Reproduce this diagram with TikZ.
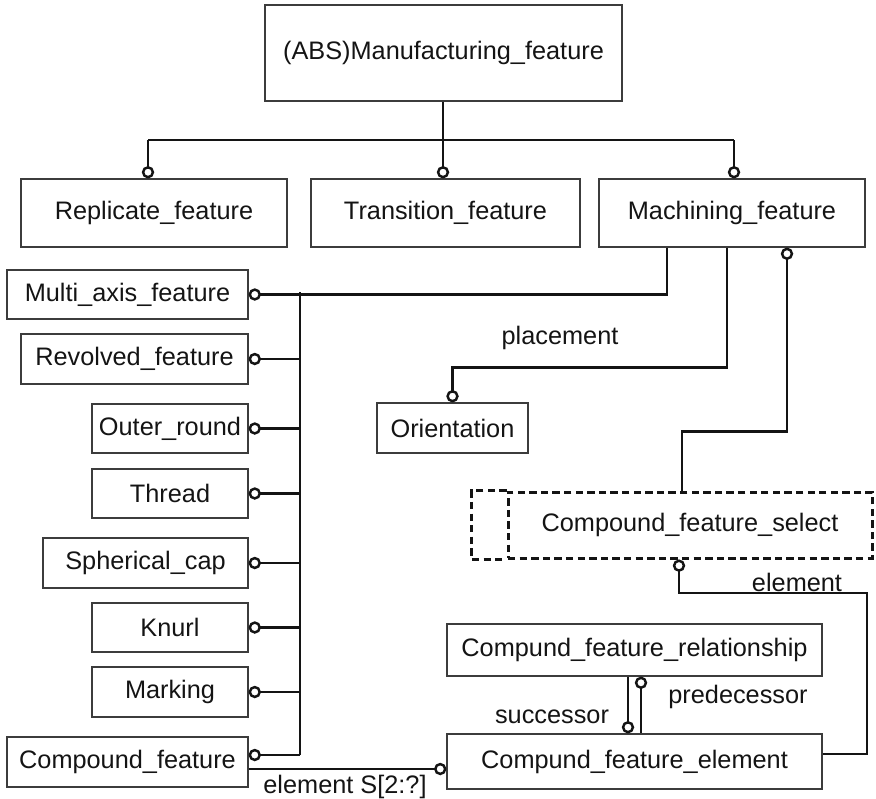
\documentclass[tikz,border=0pt]{standalone}
\usepackage{fontspec}
\setmainfont{Liberation Sans}
\usepackage{tikz}
\usetikzlibrary{arrows.meta, positioning, calc}
\definecolor{boxline}{RGB}{60,60,60}
\definecolor{wire}{RGB}{20,20,20}
\newcommand{\diafont}{\fontsize{14.4}{17}\selectfont}
\tikzset{
  ent/.style={rectangle, draw=boxline, line width=0.7pt, inner sep=0pt,
    font=\diafont, text=wire, minimum height=1.0cm},
  selbox/.style={rectangle, draw=wire, line width=1.7pt, inner sep=0pt,
    dash pattern=on 4.2pt off 2.4pt, font=\diafont, text=wire},
  lbl/.style={font=\diafont, text=wire, inner sep=0pt},
  line/.style={line width=1.4pt, color=wire},
  conn/.style={line, -{Circle[open, length=7pt, width=7pt]}},
  connstart/.style={line, {Circle[open, length=7pt, width=7pt]}-}
}
\begin{document}
\begin{tikzpicture}
  \useasboundingbox (0,0) rectangle (17.52,-15.96);

  % supertype and first level
  \node[ent, minimum width=7.14cm, minimum height=1.92cm] (mfg) at (8.87,-1.06) {(ABS)Manufacturing\_feature};
  \node[ent, minimum width=5.32cm, minimum height=1.36cm] (rep) at (3.08,-4.26) {Replicate\_feature};
  \node[ent, minimum width=5.38cm, minimum height=1.36cm] (trans) at (8.91,-4.26) {Transition\_feature};
  \node[ent, minimum width=5.32cm, minimum height=1.36cm] (mach) at (14.64,-4.26) {Machining\_feature};

  \coordinate (bus) at (8.86,-2.8);
  \draw[line] (mfg.south -| bus) -- (bus);
  \draw[line] ([xshift=-0.12cm]rep.north |- bus) -- ([xshift=0.04cm]mach.north |- bus);
  \draw[conn] (bus) -- (bus |- trans.north);
  \draw[conn] ([xshift=-0.12cm]rep.north |- bus) -- ([xshift=-0.12cm]rep.north);
  \draw[conn] ([xshift=0.04cm]mach.north |- bus) -- ([xshift=0.04cm]mach.north);

  % machining subtypes
  \node[ent, minimum width=4.82cm, minimum height=0.98cm] (multi) at (2.55,-5.89) {Multi\_axis\_feature};
  \node[ent, minimum width=4.54cm] (revolved) at (2.69,-7.18) {Revolved\_feature};
  \node[ent, minimum width=3.12cm, minimum height=0.98cm] (outer) at (3.4,-8.57) {Outer\_round};
  \node[ent, minimum width=3.12cm, minimum height=0.98cm] (thread) at (3.4,-9.87) {Thread};
  \node[ent, minimum width=4.1cm] (sph) at (2.91,-11.26) {Spherical\_cap};
  \node[ent, minimum width=3.12cm, minimum height=0.98cm] (knurl) at (3.4,-12.55) {Knurl};
  \node[ent, minimum width=3.12cm] (marking) at (3.4,-13.84) {Marking};
  \node[ent, minimum width=4.82cm] (compound) at (2.55,-15.24) {Compound\_feature};

  \coordinate (vbus) at (6.0,-5.84);
  \coordinate (cmpup) at ([yshift=0.14cm]compound.east);
  \coordinate (cmpdn) at ([yshift=-0.14cm]compound.east);
  \draw[conn] ([xshift=-1.3cm]mach.south) |- (multi.east);
  \draw[line] (vbus) -- (vbus |- cmpup);
  \foreach \n in {revolved, outer, thread, sph, knurl, marking} {
    \draw[conn] (vbus |- \n.east) -- (\n.east);
  }
  \draw[conn] (vbus |- cmpup) -- (cmpup);

  % placement
  \node[ent, minimum width=3.02cm] (orient) at (9.05,-8.56) {Orientation};
  \draw[conn] ([xshift=-0.1cm]mach.south) -- ++(0,-2.4) -| (orient.north);
  \node[lbl] (lplace) at (11.2,-6.76) {placement};

  % compound feature select
  \node[selbox, minimum width=7.28cm, minimum height=1.32cm] (sel) at (13.8,-10.5) {Compound\_feature\_select};
  \draw[selbox] (sel.north west) -- ++(-0.7,0) |- (sel.south west);
  \draw[connstart] ([xshift=1.1cm]mach.south) -- ++(0,-3.68) -| ([xshift=-0.16cm]sel.north);

  % elements
  \node[ent, minimum width=7.5cm, minimum height=1.04cm] (rel) at (12.69,-13.0) {Compund\_feature\_relationship};
  \node[ent, minimum width=7.5cm, minimum height=1.1cm] (elem) at (12.69,-15.23) {Compund\_feature\_element};

  \coordinate (elc) at (17.34,-11.86);
  \draw[connstart] ([xshift=-0.22cm]sel.south) |- (elc) |- ([yshift=0.15cm]elem.east);
  \node[lbl] (lsel) at (15.94,-11.64) {element};

  \draw[conn] ([xshift=-0.13cm]rel.south) -- ([xshift=-0.13cm]elem.north);
  \draw[connstart] ([xshift=0.13cm]rel.south) -- ([xshift=0.13cm]elem.north);
  \node[lbl] (lsucc) at (11.04,-14.34) {successor};
  \node[lbl] (lpred) at (14.76,-13.94) {predecessor};

  \draw[conn] (cmpdn) -- (cmpdn -| elem.west);
  \node[lbl] (lcomp) at (6.9,-15.74) {element S[2:?]};
\end{tikzpicture}
\end{document}
